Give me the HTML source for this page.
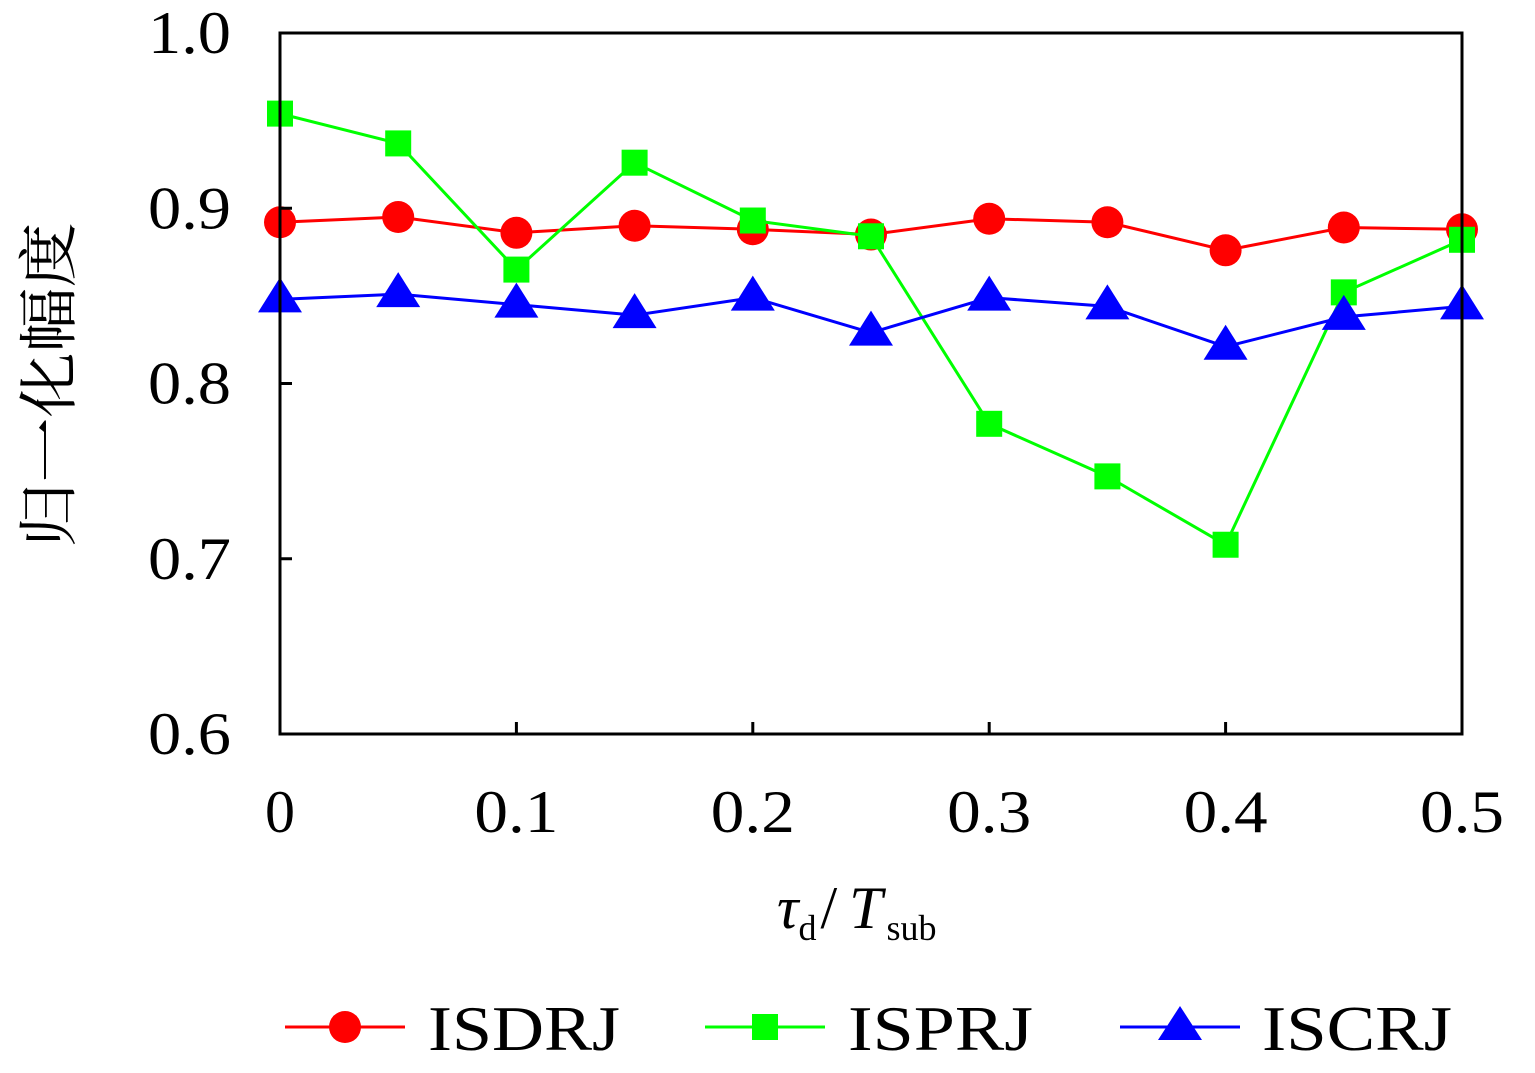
<!DOCTYPE html>
<html><head><meta charset="utf-8"><style>
body{margin:0;background:#fff;}
svg text{font-family:"Liberation Serif","Noto Serif CJK SC",serif;}
</style></head><body>
<svg width="1535" height="1068" viewBox="0 0 1535 1068" xmlns="http://www.w3.org/2000/svg">
<g id="plot"></g>
<rect x="280" y="33" width="1182" height="701" fill="none" stroke="#000" stroke-width="3"/>
<g id="ticks"></g>
<text x="70" y="385" font-size="60" text-anchor="middle" transform="rotate(-90 70 385)" font-family="'Noto Sans CJK SC',sans-serif" textLength="325" lengthAdjust="spacingAndGlyphs">归一化幅度</text>
<text x="777" y="928" font-size="60"><tspan font-style="italic">τ</tspan><tspan font-size="36" dy="12">d</tspan><tspan dy="-12" dx="4">/</tspan><tspan font-style="italic" dx="12">T</tspan><tspan font-size="36" dy="12" dx="4">sub</tspan></text>
<g>
<g><line x1="285" y1="1027" x2="405" y2="1027" stroke="#f00" stroke-width="3"/><circle cx="345" cy="1027" r="16" fill="#f00"/><text x="428" y="1050" font-size="64" textLength="192" lengthAdjust="spacingAndGlyphs">ISDRJ</text></g>
<g><line x1="705" y1="1027" x2="825" y2="1027" stroke="#0f0" stroke-width="3"/><rect x="752" y="1014" width="26" height="26" fill="#0f0"/><text x="848" y="1050" font-size="64" textLength="185" lengthAdjust="spacingAndGlyphs">ISPRJ</text></g>
<g><line x1="1120" y1="1027" x2="1240" y2="1027" stroke="#00f" stroke-width="3"/><polygon points="1180,1006 1202,1040 1158,1040" fill="#00f"/><text x="1262" y="1050" font-size="64" textLength="190" lengthAdjust="spacingAndGlyphs">ISCRJ</text></g>
</g>
</svg>
<script>
const xCats=[0,0.05,0.1,0.15,0.2,0.25,0.3,0.35,0.4,0.45,0.5];
const isdrj=[0.892,0.895,0.886,0.890,0.888,0.885,0.894,0.892,0.876,0.889,0.888];
const isprj=[0.954,0.937,0.865,0.926,0.893,0.884,0.777,0.747,0.708,0.852,0.882];
const iscrj=[0.848,0.851,0.845,0.839,0.849,0.829,0.849,0.844,0.821,0.838,0.844];
const xTicks=[0,0.1,0.2,0.3,0.4,0.5];
const xTickLabels=["0","0.1","0.2","0.3","0.4","0.5"];
const yTicks=[0.6,0.7,0.8,0.9,1.0];
const yTickLabels=["0.6","0.7","0.8","0.9","1.0"];
const NS="http://www.w3.org/2000/svg";
const X=v=>280+v/0.5*1182;
const Y=v=>734-(v-0.6)/0.4*701;
const plot=document.getElementById('plot'),tk=document.getElementById('ticks');
function mk(t,a,p){const e=document.createElementNS(NS,t);for(const k in a)e.setAttribute(k,a[k]);p.appendChild(e);return e;}
xTicks.forEach((v,i)=>{
 const l=mk('line',{x1:X(v),x2:X(v),y1:734,y2:722,stroke:'#000','stroke-width':3},tk);
 
 
 const a={x:X(v),y:832,'font-size':60,'text-anchor':'middle'};
 if(xTickLabels[i].length>1){a.textLength=84;a.lengthAdjust='spacingAndGlyphs';}
 const t=mk('text',a,tk);t.textContent=xTickLabels[i];
 
 
});
yTicks.forEach((v,i)=>{
 const l=mk('line',{x1:280,x2:292,y1:Y(v),y2:Y(v),stroke:'#000','stroke-width':3},tk);
 
 
 const t=mk('text',{x:231,y:Y(v)+20,'font-size':60,'text-anchor':'end',textLength:83,lengthAdjust:'spacingAndGlyphs'},tk);t.textContent=yTickLabels[i];
 
 
});
function series(vals,color,shape,name){
 const g=mk('g',{},plot);
 
 
 mk('polyline',{points:vals.map((v,i)=>X(xCats[i])+','+Y(v)).join(' '),fill:'none',stroke:color,'stroke-width':3},g);
 vals.forEach((v,i)=>{
  const cx=X(xCats[i]),cy=Y(v);let m;
  if(shape==='c')m=mk('circle',{cx:cx,cy:cy,r:16,fill:color},g);
  else if(shape==='s')m=mk('rect',{x:cx-13,y:cy-13,width:26,height:26,fill:color},g);
  else m=mk('polygon',{points:`${cx},${cy-22} ${cx+22},${cy+13} ${cx-22},${cy+13}`,fill:color},g);
  
  
 });
}
series(isdrj,'#f00','c','series-isdrj');
series(isprj,'#0f0','s','series-isprj');
series(iscrj,'#00f','t','series-iscrj');
</script>
</body></html>
